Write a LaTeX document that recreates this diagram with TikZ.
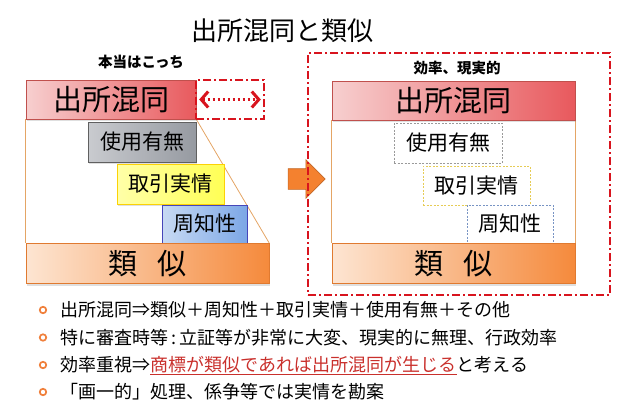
\documentclass[tikz,border=0pt]{standalone}
\usepackage{fontspec}
\setmainfont{Noto Sans CJK JP}
\usetikzlibrary{shapes.arrows,arrows.meta,backgrounds,shadows}

\definecolor{hdL}{HTML}{F7CFCF}
\definecolor{hdR}{HTML}{E8595D}
\definecolor{hdLine}{HTML}{C0504D}
\definecolor{simL}{HTML}{FDE5D2}
\definecolor{simR}{HTML}{F58A3C}
\definecolor{simLine}{HTML}{E07A30}
\definecolor{useL}{HTML}{C9CBCF}
\definecolor{useR}{HTML}{969AA1}
\definecolor{tradeL}{HTML}{FFFFA8}
\definecolor{tradeR}{HTML}{FFFF55}
\definecolor{wellL}{HTML}{C8DAF3}
\definecolor{wellR}{HTML}{7CA7E6}
\definecolor{frameLine}{HTML}{E4A565}
\definecolor{markRed}{HTML}{D8141E}
\definecolor{goFill}{HTML}{F4812F}
\definecolor{bulletOrange}{HTML}{F0803C}
\definecolor{keyRed}{HTML}{C9302C}
\definecolor{useDash}{HTML}{9A9A9A}
\definecolor{tradeDash}{HTML}{E6CC55}
\definecolor{wellDash}{HTML}{7894C4}

\newcommand{\impl}{\makebox[1em]{⇒}}

\begin{document}
\begin{tikzpicture}[x=1pt,y=-1pt,
    box/.style={inner sep=0pt,line width=0.6pt},
    shd/.style={drop shadow={opacity=0.25,shadow xshift=1pt,shadow yshift=-2pt}},
    big/.style={box,font=\fontsize{29}{32}\selectfont},
    mid/.style={box,font=\fontsize{21}{24}\selectfont},
    hd/.style={big,shd,draw=hdLine,left color=hdL,right color=hdR,minimum height=39pt},
    sim/.style={big,shd,draw=simLine,left color=simL,right color=simR,minimum height=40pt},
    dotbox/.style={mid,dash pattern=on 2pt off 1.5pt,fill=white},
    frm/.style={frameLine,line width=0.8pt},
    redframe/.style={draw=markRed,line width=1.6pt,dash pattern=on 8pt off 3pt on 2pt off 3pt},
    bul/.style={circle,draw=bulletOrange,line width=1.7pt,inner sep=0pt,minimum size=6.5pt},
    line/.style={anchor=west,inner sep=0pt,font=\fontsize{18}{20}\selectfont},
    part/.style={anchor=base west,inner sep=0pt,font=\fontsize{18}{20}\selectfont}]
\useasboundingbox (0,0) rectangle (635,413);

% title
\node[font=\fontsize{26}{30}\selectfont] (title) at (282,31) {出所混同と類似};

% left: how it really is
\node[font=\bfseries\fontsize{14.5}{16}\selectfont] (realLbl) at (141,62) {本当はこっち};
\node[hd,minimum width=170pt] (hdA) at (111,99.5) {出所混同};
\node[redframe,minimum width=68pt,minimum height=39pt] (gapA) at (230,99.5) {};
\draw[markRed,line width=2.6pt,dash pattern=on 2.6pt off 2.4pt,
      {Straight Barb[length=7pt,width=16pt,line width=3pt]}-{Straight Barb[length=7pt,width=16pt,line width=3pt]}]
      ([xshift=4pt]gapA.west) -- ([xshift=-4pt]gapA.east);
\node[mid,shd,draw=gray!75!black,left color=useL,right color=useR,minimum width=108pt,minimum height=40pt] (useA) at (142,142) {使用有無};
\node[mid,shd,draw=yellow!70!orange,left color=tradeL,right color=tradeR,minimum width=107pt,minimum height=40pt] (tradeA) at (170.5,184) {取引実情};
\node[mid,shd,draw=blue!45!gray,left color=wellL,right color=wellR,minimum width=85pt,minimum height=38pt] (wellA) at (204.5,224) {周知性};
\node[sim,minimum width=243pt] (simA) at (147.5,263.5) {類\hspace{0.7em}似};
\begin{scope}[on background layer]
  \draw[frm] (hdA.south west) -- (simA.north west);
  \draw[frm] (hdA.south east) -- (simA.north east);
\end{scope}

% arrow
\node[single arrow,draw=goFill!80!black,fill=goFill,line width=0.6pt,inner xsep=0pt,inner ysep=10pt,
      minimum height=37pt,minimum width=38pt,single arrow head extend=9pt] (go) at (301.5,179) {};

% right: efficient, realistic
\node[redframe,minimum width=302pt,minimum height=242pt] (rframe) at (459,174) {};
\node[font=\bfseries\fontsize{14.5}{16}\selectfont] (effLbl) at (457,68) {効率、現実的};
\node[hd,minimum width=243pt] (hdB) at (453.5,100.5) {出所混同};
\node[dotbox,draw=useDash,minimum width=108pt,minimum height=40pt] (useB) at (448,143) {使用有無};
\node[dotbox,draw=tradeDash,minimum width=107pt,minimum height=39pt] (tradeB) at (476.5,185.5) {取引実情};
\node[dotbox,draw=wellDash,minimum width=86pt,minimum height=38pt] (wellB) at (510,224) {周知性};
\node[sim,minimum width=243pt] (simB) at (453.5,263.5) {類\hspace{0.7em}似};
\begin{scope}[on background layer]
  \draw[frm] (hdB.south west) -- (simB.north west);
  \draw[frm] (hdB.south east) -- (simB.north east);
\end{scope}

% bullets
\foreach \y [count=\i] in {310,337.5,365,392}
  \node[bul] (b\i) at (43,\y) {};
\node[line] (t1) at (60,310) {出所混同\impl 類似＋周知性＋取引実情＋使用有無＋その他};
\node[line] (t2) at (60,337.5) {特に審査時等{\,:\,}立証等が非常に大変、現実的に無理、行政効率};
\node[line] (t3a) at (60,365) {効率重視\impl};
\node[part,text=keyRed] (t3b) at (t3a.base east) {商標が類似であれば出所混同が生じる};
\node[part] (t3c) at (t3b.base east) {と考える};
\draw[keyRed,line width=0.9pt] ([yshift=-3pt]t3b.base west) -- ([yshift=-3pt]t3b.base east);
\node[line] (t4) at (60,392) {「画一的」処理、係争等では実情を勘案};
\end{tikzpicture}
\end{document}
